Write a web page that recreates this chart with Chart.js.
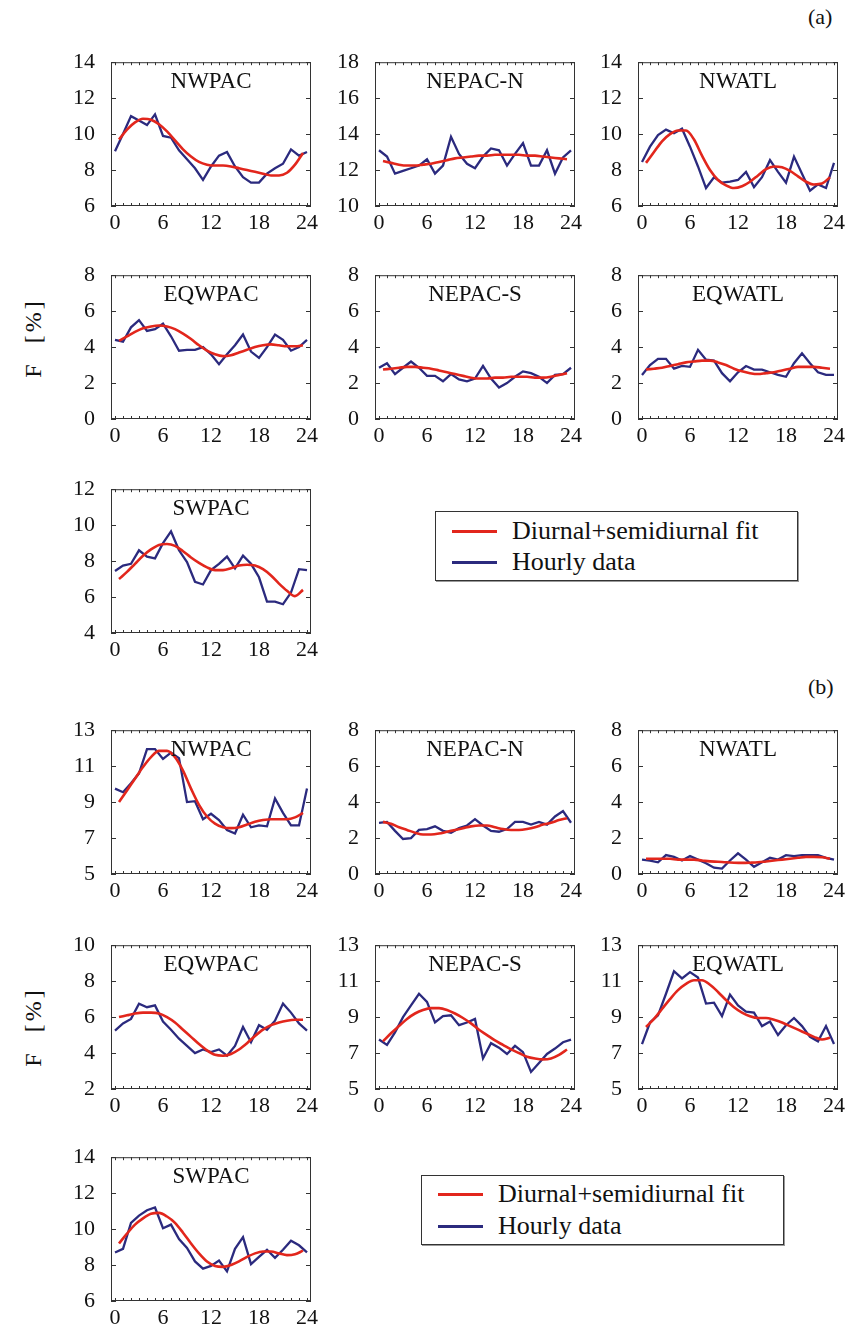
<!DOCTYPE html>
<html lang="en">
<head>
<meta charset="UTF-8">
<title>Diurnal cycle of F</title>
<style>
  body { margin: 0; background: #fff; }
  #page {
    position: relative;
    width: 849px;
    height: 1338px;
    font-family: "Liberation Serif", "Times New Roman", Tinos, "Nimbus Roman", "DejaVu Serif", "Noto Serif", serif;
    color: #111;
    overflow: hidden;
  }
  .panel { position: absolute; }
  .tag { position: absolute; font-size: 22px; }
  .ylabel {
    position: absolute;
    font-size: 24px;
    white-space: pre;
    letter-spacing: 3px;
    transform: translate(-50%, -50%) rotate(-90deg);
  }
  .legend {
    position: absolute;
    width: 361px;
    height: 68px;
    border: 1px solid #333;
    box-shadow: 1px 1px 0 #999;
    background: #fff;
  }
  .legend .swatch { position: absolute; left: 16px; width: 45px; height: 3px; }
  .legend .text {
    position: absolute;
    left: 76px;
    font-size: 26px;
    line-height: 30px;
    transform: translateY(-50%);
    white-space: nowrap;
  }
</style>
</head>
<body>
<div id="page">
  <div class="tag" style="left:808px; top:4px;">(a)</div>
  <div class="tag" style="left:808px; top:674px;">(b)</div>
  <div class="ylabel" style="left:33px; top:338px;">F  [%]</div>
  <div class="ylabel" style="left:33px; top:1027px;">F  [%]</div>

  <div class="legend" style="left:435px; top:511px;">
    <div class="swatch" style="top:18px; background:#e2261c;"></div>
    <div class="text" style="top:19px;">Diurnal+semidiurnal fit</div>
    <div class="swatch" style="top:49px; background:#2b2a7e;"></div>
    <div class="text" style="top:50px;">Hourly data</div>
  </div>
  <div class="legend" style="left:421px; top:1175px;">
    <div class="swatch" style="top:17px; background:#e2261c;"></div>
    <div class="text" style="top:18px;">Diurnal+semidiurnal fit</div>
    <div class="swatch" style="top:49px; background:#2b2a7e;"></div>
    <div class="text" style="top:50px;">Hourly data</div>
  </div>
</div>

<script src="https://cdn.jsdelivr.net/npm/chart.js"></script>
<script>
// hours of the hourly samples (last one repeats hour 0) and of the fit curve
const hours = [0, 1, 2, 3, 4, 5, 6, 7, 8, 9, 10, 11, 12, 13, 14, 15, 16, 17, 18, 19, 20, 21, 22, 23, 24];
const fitHours = [0.5, 1.5, 2.5, 3.5, 4.5, 5.5, 6.5, 7.5, 8.5, 9.5, 10.5, 11.5, 12.5, 13.5, 14.5, 15.5, 16.5, 17.5, 18.5, 19.5, 20.5, 21.5, 22.5, 23.5];
const xTicks = [0, 6, 12, 18, 24];

// (a)
const aNwpacTicks = [6, 8, 10, 12, 14];
const aNwpacHourly = [9.05, 10.0, 11.0, 10.75, 10.5, 11.1, 9.9, 9.8, 9.1, 8.6, 8.1, 7.45, 8.2, 8.8, 9.0, 8.2, 7.6, 7.3, 7.3, 7.8, 8.1, 8.35, 9.15, 8.8, 9.0];
const aNwpacFit = [9.7, 10.25, 10.65, 10.85, 10.8, 10.55, 10.15, 9.65, 9.15, 8.75, 8.45, 8.3, 8.25, 8.25, 8.2, 8.1, 8.0, 7.9, 7.8, 7.7, 7.7, 7.85, 8.3, 8.95];

const aNepacNTicks = [10, 12, 14, 16, 18];
const aNepacNHourly = [13.1, 12.75, 11.8, 11.95, 12.1, 12.25, 12.6, 11.8, 12.25, 13.85, 12.9, 12.35, 12.1, 12.75, 13.2, 13.1, 12.25, 12.9, 13.5, 12.25, 12.25, 13.1, 11.8, 12.7, 13.1];
const aNepacNFit = [12.5, 12.4, 12.3, 12.25, 12.25, 12.3, 12.35, 12.45, 12.55, 12.65, 12.7, 12.75, 12.8, 12.8, 12.85, 12.85, 12.85, 12.85, 12.8, 12.8, 12.75, 12.7, 12.65, 12.6];

const aNwatlTicks = [6, 8, 10, 12, 14];
const aNwatlHourly = [8.45, 9.3, 9.95, 10.25, 10.05, 10.3, 9.3, 8.2, 7.0, 7.6, 7.3, 7.35, 7.45, 7.9, 7.05, 7.6, 8.55, 7.9, 7.3, 8.75, 7.8, 6.85, 7.2, 7.0, 8.4];
const aNwatlFit = [8.4, 9.0, 9.6, 10.0, 10.2, 10.2, 9.7, 8.8, 8.0, 7.45, 7.15, 7.0, 7.1, 7.35, 7.7, 8.05, 8.2, 8.15, 7.95, 7.65, 7.35, 7.2, 7.25, 7.6];

const aEqwpacTicks = [0, 2, 4, 6, 8];
const aEqwpacHourly = [4.4, 4.3, 5.1, 5.5, 4.9, 5.0, 5.3, 4.6, 3.8, 3.85, 3.85, 4.0, 3.6, 3.05, 3.6, 4.1, 4.7, 3.75, 3.4, 4.0, 4.7, 4.4, 3.8, 4.0, 4.4];
const aEqwpacFit = [4.35, 4.6, 4.85, 5.05, 5.15, 5.2, 5.15, 5.0, 4.75, 4.45, 4.1, 3.8, 3.6, 3.5, 3.55, 3.7, 3.85, 4.0, 4.1, 4.15, 4.1, 4.05, 4.05, 4.1];

const aNepacSTicks = [0, 2, 4, 6, 8];
const aNepacSHourly = [2.85, 3.1, 2.5, 2.85, 3.2, 2.85, 2.4, 2.4, 2.1, 2.5, 2.2, 2.1, 2.25, 2.95, 2.25, 1.75, 2.0, 2.35, 2.65, 2.55, 2.35, 2.0, 2.45, 2.5, 2.85];
const aNepacSFit = [2.75, 2.8, 2.85, 2.9, 2.9, 2.85, 2.8, 2.7, 2.6, 2.5, 2.4, 2.3, 2.25, 2.25, 2.3, 2.3, 2.35, 2.35, 2.35, 2.3, 2.3, 2.35, 2.45, 2.55];

const aEqwatlTicks = [0, 2, 4, 6, 8];
const aEqwatlHourly = [2.45, 3.0, 3.35, 3.35, 2.8, 2.95, 2.9, 3.85, 3.3, 3.25, 2.55, 2.1, 2.6, 2.95, 2.75, 2.75, 2.6, 2.45, 2.35, 3.1, 3.65, 3.1, 2.6, 2.45, 2.45];
const aEqwatlFit = [2.75, 2.8, 2.85, 2.95, 3.05, 3.15, 3.2, 3.25, 3.25, 3.15, 3.0, 2.8, 2.65, 2.55, 2.5, 2.55, 2.6, 2.7, 2.8, 2.9, 2.9, 2.9, 2.85, 2.8];

const aSwpacTicks = [4, 6, 8, 10, 12];
const aSwpacHourly = [7.45, 7.75, 7.85, 8.6, 8.25, 8.15, 9.0, 9.65, 8.6, 7.95, 6.85, 6.7, 7.5, 7.85, 8.25, 7.6, 8.3, 7.85, 7.1, 5.75, 5.75, 5.6, 6.25, 7.55, 7.5];
const aSwpacFit = [7.0, 7.4, 7.85, 8.3, 8.65, 8.9, 8.95, 8.85, 8.55, 8.2, 7.9, 7.65, 7.5, 7.5, 7.6, 7.75, 7.8, 7.75, 7.55, 7.2, 6.75, 6.35, 6.05, 6.4];

// (b)
const bNwpacTicks = [5, 7, 9, 11, 13];
const bNwpacHourly = [9.75, 9.55, 10.05, 10.6, 11.95, 11.95, 11.4, 11.75, 11.45, 9.0, 9.05, 8.05, 8.35, 8.0, 7.45, 7.25, 8.3, 7.6, 7.7, 7.65, 9.2, 8.4, 7.7, 7.7, 9.75];
const bNwpacFit = [9.0, 9.65, 10.3, 10.95, 11.5, 11.85, 11.85, 11.5, 10.75, 9.75, 8.85, 8.2, 7.8, 7.6, 7.55, 7.6, 7.75, 7.9, 8.0, 8.05, 8.05, 8.05, 8.15, 8.4];

const bNepacNTicks = [0, 2, 4, 6, 8];
const bNepacNHourly = [2.85, 2.9, 2.4, 1.95, 2.0, 2.45, 2.5, 2.65, 2.4, 2.3, 2.55, 2.7, 3.05, 2.7, 2.4, 2.35, 2.5, 2.9, 2.9, 2.75, 2.9, 2.75, 3.2, 3.5, 2.85];
const bNepacNFit = [2.9, 2.8, 2.6, 2.45, 2.3, 2.2, 2.2, 2.25, 2.35, 2.45, 2.55, 2.65, 2.7, 2.7, 2.6, 2.5, 2.45, 2.45, 2.5, 2.6, 2.75, 2.85, 3.0, 3.1];

const bNwatlTicks = [0, 2, 4, 6, 8];
const bNwatlHourly = [0.8, 0.75, 0.65, 1.05, 0.95, 0.75, 1.0, 0.8, 0.6, 0.35, 0.3, 0.75, 1.15, 0.8, 0.4, 0.65, 0.9, 0.8, 1.05, 1.0, 1.05, 1.05, 1.05, 0.9, 0.8];
const bNwatlFit = [0.85, 0.85, 0.85, 0.85, 0.8, 0.8, 0.8, 0.75, 0.7, 0.68, 0.65, 0.63, 0.62, 0.63, 0.65, 0.7, 0.75, 0.8, 0.85, 0.9, 0.95, 0.95, 0.93, 0.85];

const bEqwpacTicks = [2, 4, 6, 8, 10];
const bEqwpacHourly = [5.25, 5.65, 5.9, 6.75, 6.55, 6.65, 5.75, 5.3, 4.8, 4.4, 4.0, 4.2, 4.05, 4.2, 3.85, 4.4, 5.45, 4.6, 5.55, 5.3, 5.8, 6.75, 6.25, 5.65, 5.25];
const bEqwpacFit = [6.0, 6.1, 6.2, 6.25, 6.25, 6.2, 6.0, 5.7, 5.3, 4.9, 4.5, 4.15, 3.9, 3.85, 3.95, 4.2, 4.55, 4.95, 5.3, 5.55, 5.7, 5.8, 5.85, 5.85];

const bNepacSTicks = [5, 7, 9, 11, 13];
const bNepacSHourly = [7.75, 7.45, 8.15, 9.0, 9.65, 10.3, 9.85, 8.7, 9.05, 9.1, 8.55, 8.7, 8.9, 6.7, 7.55, 7.3, 6.95, 7.4, 7.05, 5.95, 6.45, 6.95, 7.25, 7.6, 7.75];
const bNepacSFit = [7.65, 8.1, 8.5, 8.9, 9.2, 9.4, 9.5, 9.5, 9.4, 9.2, 8.95, 8.65, 8.3, 8.0, 7.7, 7.45, 7.2, 7.0, 6.8, 6.7, 6.65, 6.7, 6.9, 7.2];

const bEqwatlTicks = [5, 7, 9, 11, 13];
const bEqwatlHourly = [7.5, 8.7, 9.1, 10.3, 11.55, 11.15, 11.5, 11.2, 9.75, 9.8, 9.05, 10.25, 9.65, 9.3, 9.25, 8.5, 8.75, 8.0, 8.55, 8.95, 8.5, 7.9, 7.65, 8.5, 7.5];
const bEqwatlFit = [8.45, 8.9, 9.45, 10.0, 10.5, 10.85, 11.05, 11.05, 10.8, 10.4, 9.95, 9.55, 9.25, 9.05, 8.95, 8.95, 8.85, 8.7, 8.5, 8.3, 8.1, 7.9, 7.75, 7.85];

const bSwpacTicks = [6, 8, 10, 12, 14];
const bSwpacHourly = [8.7, 8.9, 10.35, 10.75, 11.05, 11.2, 10.05, 10.25, 9.45, 8.95, 8.2, 7.8, 7.95, 8.25, 7.65, 8.9, 9.55, 8.05, 8.45, 8.85, 8.4, 8.85, 9.35, 9.1, 8.7];
const bSwpacFit = [9.2, 9.75, 10.25, 10.6, 10.85, 10.9, 10.7, 10.35, 9.8, 9.2, 8.65, 8.2, 7.95, 7.9, 8.0, 8.2, 8.45, 8.65, 8.75, 8.75, 8.65, 8.55, 8.6, 8.8];

const RED = '#e2261c';
const BLUE = '#2b2a7e';
const SERIF = '"Liberation Serif", "Times New Roman", Tinos, "Nimbus Roman", "DejaVu Serif", "Noto Serif", serif';

// frame left edges of the three columns, frame tops of the six rows
const colX = [111, 375, 638];
const rowY = [45, 258, 472, 713, 928, 1140];
const FRAME_W = 200, FRAME_H = 161, PAD_L = 60, PAD_T = 12, PAD_R = 12, PAD_B = 34;

const panels = [
  { name: 'NWPAC', ticks: aNwpacTicks, hourly: aNwpacHourly, fit: aNwpacFit, col: 0, row: 0 },
  { name: 'NEPAC-N', ticks: aNepacNTicks, hourly: aNepacNHourly, fit: aNepacNFit, col: 1, row: 0 },
  { name: 'NWATL', ticks: aNwatlTicks, hourly: aNwatlHourly, fit: aNwatlFit, col: 2, row: 0 },
  { name: 'EQWPAC', ticks: aEqwpacTicks, hourly: aEqwpacHourly, fit: aEqwpacFit, col: 0, row: 1 },
  { name: 'NEPAC-S', ticks: aNepacSTicks, hourly: aNepacSHourly, fit: aNepacSFit, col: 1, row: 1 },
  { name: 'EQWATL', ticks: aEqwatlTicks, hourly: aEqwatlHourly, fit: aEqwatlFit, col: 2, row: 1 },
  { name: 'SWPAC', ticks: aSwpacTicks, hourly: aSwpacHourly, fit: aSwpacFit, col: 0, row: 2 },
  { name: 'NWPAC', ticks: bNwpacTicks, hourly: bNwpacHourly, fit: bNwpacFit, col: 0, row: 3 },
  { name: 'NEPAC-N', ticks: bNepacNTicks, hourly: bNepacNHourly, fit: bNepacNFit, col: 1, row: 3 },
  { name: 'NWATL', ticks: bNwatlTicks, hourly: bNwatlHourly, fit: bNwatlFit, col: 2, row: 3 },
  { name: 'EQWPAC', ticks: bEqwpacTicks, hourly: bEqwpacHourly, fit: bEqwpacFit, col: 0, row: 4 },
  { name: 'NEPAC-S', ticks: bNepacSTicks, hourly: bNepacSHourly, fit: bNepacSFit, col: 1, row: 4 },
  { name: 'EQWATL', ticks: bEqwatlTicks, hourly: bEqwatlHourly, fit: bEqwatlFit, col: 2, row: 4 },
  { name: 'SWPAC', ticks: bSwpacTicks, hourly: bSwpacHourly, fit: bSwpacFit, col: 0, row: 5 }
];

Chart.defaults.font.family = SERIF;
Chart.defaults.font.size = 22;
Chart.defaults.color = '#111';

// box around the plot area, inward tick marks and the region name
const framePlugin = {
  id: 'frame',
  afterDraw(chart, args, opts) {
    const { ctx, chartArea: a, scales: { x, y } } = chart;
    ctx.save();
    ctx.strokeStyle = '#333';
    ctx.lineWidth = 1;
    ctx.strokeRect(a.left + 0.5, a.top + 0.5, a.right - a.left - 1, a.bottom - a.top - 1);
    ctx.beginPath();
    for (let h = 0; h <= 24; h++) {
      const px = Math.round(x.getPixelForValue(h)) + 0.5;
      ctx.moveTo(px, a.top); ctx.lineTo(px, a.top + 3);
      ctx.moveTo(px, a.bottom); ctx.lineTo(px, a.bottom - 3);
    }
    y.ticks.forEach(t => {
      const py = Math.round(y.getPixelForValue(t.value)) + 0.5;
      ctx.moveTo(a.left, py); ctx.lineTo(a.left + 5, py);
      ctx.moveTo(a.right, py); ctx.lineTo(a.right - 5, py);
    });
    ctx.stroke();
    ctx.font = '23px ' + SERIF;
    ctx.fillStyle = '#111';
    ctx.textAlign = 'center';
    ctx.textBaseline = 'alphabetic';
    ctx.fillText(opts.title, (a.left + a.right) / 2, a.top + 26);
    ctx.restore();
  }
};

const page = document.getElementById('page');

panels.forEach(p => {
  const canvas = document.createElement('canvas');
  canvas.className = 'panel';
  canvas.width = PAD_L + FRAME_W + PAD_R;
  canvas.height = PAD_T + FRAME_H + PAD_B;
  canvas.style.left = (colX[p.col] - PAD_L) + 'px';
  canvas.style.top = (rowY[p.row] - PAD_T) + 'px';
  page.appendChild(canvas);

  new Chart(canvas, {
    type: 'line',
    data: {
      datasets: [{
        label: 'Diurnal+semidiurnal fit',
        data: fitHours.map((h, k) => ({ x: h, y: p.fit[k] })),
        borderColor: RED,
        borderWidth: 2.6,
        pointRadius: 0,
        cubicInterpolationMode: 'monotone'
      }, {
        label: 'Hourly data',
        data: hours.map((h, k) => ({ x: h, y: p.hourly[k] })),
        borderColor: BLUE,
        borderWidth: 2.3,
        pointRadius: 0,
        tension: 0
      }]
    },
    options: {
      responsive: false,
      animation: false,
      events: [],
      layout: { padding: { left: 0, top: PAD_T, right: PAD_R, bottom: 0 } },
      plugins: {
        legend: { display: false },
        tooltip: { enabled: false },
        frame: { title: p.name }
      },
      scales: {
        x: {
          type: 'linear',
          min: -0.5,
          max: 24.5,
          afterBuildTicks: s => { s.ticks = xTicks.map(v => ({ value: v })); },
          afterFit: s => { s.height = PAD_B; },
          grid: { display: false, drawTicks: false },
          border: { display: false },
          ticks: { padding: 4, maxRotation: 0, autoSkip: false }
        },
        y: {
          min: p.ticks[0],
          max: p.ticks[p.ticks.length - 1],
          afterBuildTicks: s => { s.ticks = p.ticks.map(v => ({ value: v })); },
          afterFit: s => { s.width = PAD_L; },
          grid: { display: false, drawTicks: false },
          border: { display: false },
          ticks: { padding: 16 }
        }
      }
    },
    plugins: [framePlugin]
  });
});
</script>
</body>
</html>
